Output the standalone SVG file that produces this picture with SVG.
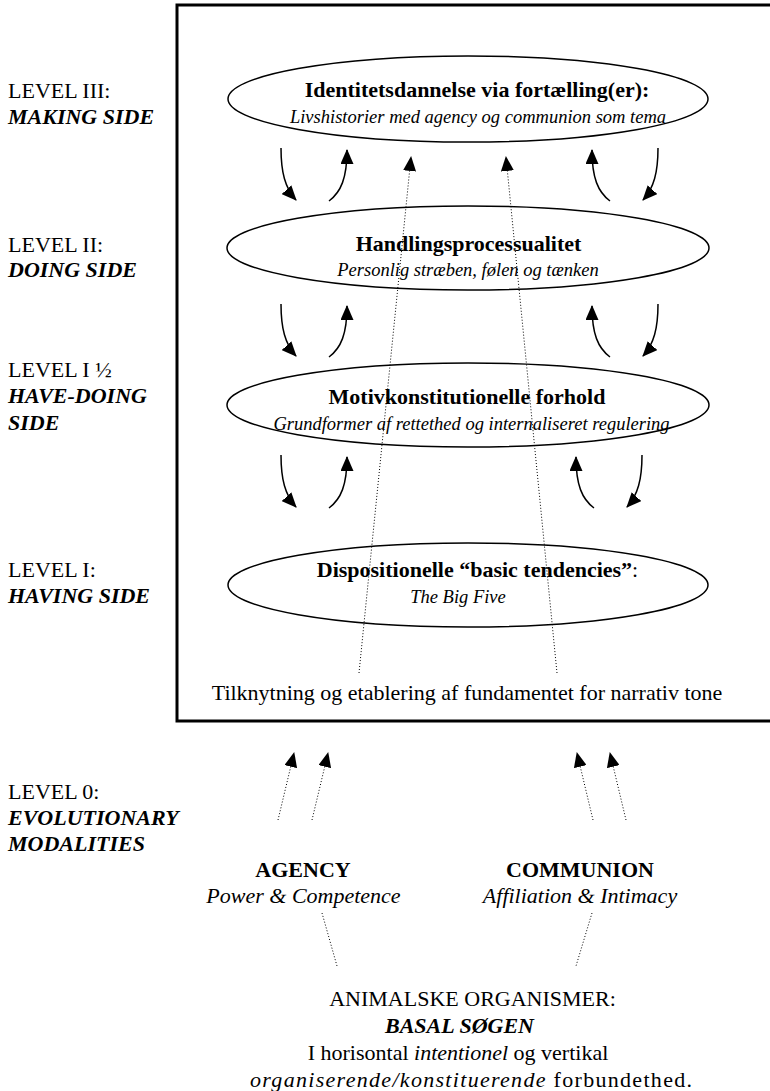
<svg xmlns="http://www.w3.org/2000/svg" width="770" height="1091" viewBox="0 0 770 1091">
<style>
text{font-family:"Liberation Serif","Times New Roman",serif;fill:#000}
.t{font-size:22px}
.b{font-weight:bold}
.i{font-style:italic}
.bi{font-weight:bold;font-style:italic}
.s{font-size:18.5px;font-style:italic}
.m{text-anchor:middle}
.ell{fill:none;stroke:#000;stroke-width:1.5}
.arr{fill:none;stroke:#000;stroke-width:1.5;marker-end:url(#ah)}
.dot{fill:none;stroke:#000;stroke-width:1;stroke-dasharray:1 2}
.dota{fill:none;stroke:#000;stroke-width:1;stroke-dasharray:1 2;marker-end:url(#ah)}
</style>
<defs>
<marker id="ah" markerUnits="userSpaceOnUse" markerWidth="15" markerHeight="13" viewBox="0 0 15 13" refX="14" refY="6.5" orient="auto">
<path d="M0,0 L15,6.5 L0,13 z" fill="#000"/>
</marker>
</defs>
<rect width="770" height="1091" fill="#fff"/>

<g id="frame">
<rect x="177" y="5" width="620" height="716" fill="none" stroke="#000" stroke-width="3"/>
</g>

<g id="labels">
<text class="t" x="8" y="98">LEVEL III:</text>
<text class="t bi" x="8" y="124">MAKING SIDE</text>
<text class="t" x="8" y="252">LEVEL II:</text>
<text class="t bi" x="8" y="277">DOING SIDE</text>
<text class="t" x="8" y="377">LEVEL I ½</text>
<text class="t bi" x="8" y="403">HAVE-DOING</text>
<text class="t bi" x="8" y="430">SIDE</text>
<text class="t" x="8" y="577">LEVEL I:</text>
<text class="t bi" x="8" y="603">HAVING SIDE</text>
<text class="t" x="8" y="799">LEVEL 0:</text>
<text class="t bi" x="8" y="825">EVOLUTIONARY</text>
<text class="t bi" x="8" y="851">MODALITIES</text>
</g>

<g id="level3">
<ellipse class="ell" cx="468" cy="99" rx="240" ry="43"/>
<text class="t b m" x="477" y="97">Identitetsdannelse via fortælling(er):</text>
<text class="s m" x="478" y="123">Livshistorier med agency og communion som tema</text>
</g>

<g id="level2">
<ellipse class="ell" cx="468" cy="248" rx="241" ry="42"/>
<text class="t b m" x="468.5" y="251">Handlingsprocessualitet</text>
<text class="s m" x="468" y="276">Personlig stræben, følen og tænken</text>
</g>

<g id="level1half">
<ellipse class="ell" cx="468" cy="405" rx="241" ry="42"/>
<text class="t b m" x="467" y="404">Motivkonstitutionelle forhold</text>
<text class="s m" x="471.5" y="430">Grundformer af rettethed og internaliseret regulering</text>
</g>

<g id="level1">
<ellipse class="ell" cx="468" cy="585" rx="240" ry="42"/>
<text class="t m" x="477.5" y="577"><tspan class="b">Dispositionelle “basic tendencies”</tspan>:</text>
<text class="s m" x="458" y="603">The Big Five</text>
</g>

<g id="foundation">
<text class="t m" x="467" y="700">Tilknytning og etablering af fundamentet for narrativ tone</text>
</g>

<g id="agency">
<text class="t b m" x="303" y="877">AGENCY</text>
<text class="t i m" x="303.5" y="903">Power &amp; Competence</text>
</g>

<g id="communion">
<text class="t b m" x="580" y="877">COMMUNION</text>
<text class="t i m" x="580" y="903">Affiliation &amp; Intimacy</text>
</g>

<g id="basal">
<text class="t m" x="472.5" y="1006">ANIMALSKE ORGANISMER:</text>
<text class="t bi m" x="459.5" y="1033">BASAL SØGEN</text>
<text class="t m" x="458" y="1060">I horisontal <tspan class="i">intentionel</tspan> og vertikal</text>
<text class="t" x="250" y="1087" textLength="442" lengthAdjust="spacing"><tspan class="i">organiserende/konstituerende</tspan> forbundethed.</text>
</g>

<g id="connectors">
<!-- level III <-> II -->
<path class="arr" d="M281,148 C281,172 285,188 296,200"/>
<path class="arr" d="M329,201 C341,192 347,178 347,150"/>
<path class="arr" d="M610,201 C598,192 592,178 592,150"/>
<path class="arr" d="M658,148 C658,172 654,188 643,200"/>
<!-- level II <-> I½ -->
<path class="arr" d="M281,304 C281,328 285,344 296,356"/>
<path class="arr" d="M329,357 C341,348 347,334 347,306"/>
<path class="arr" d="M610,357 C598,348 592,334 592,306"/>
<path class="arr" d="M658,304 C658,328 654,344 643,356"/>
<!-- level I½ <-> I -->
<path class="arr" d="M281,455 C281,479 285,495 296,507"/>
<path class="arr" d="M329,508 C341,499 347,485 347,457"/>
<path class="arr" d="M594,508 C582,499 576,485 576,457"/>
<path class="arr" d="M642,455 C642,479 638,495 627,507"/>
<!-- long dotted -->
<path class="dota" d="M359,673 L411,157"/>
<path class="dota" d="M557,673 L506,157"/>
<!-- evolutionary arrows -->
<path class="dota" d="M278,820 L294,753"/>
<path class="dota" d="M312,820 L328,753"/>
<path class="dota" d="M593,820 L577,753"/>
<path class="dota" d="M626,820 L610,753"/>
<!-- basal links -->
<path class="dot" d="M322,913 L337,966"/>
<path class="dot" d="M592,913 L576,966"/>
</g>
</svg>
